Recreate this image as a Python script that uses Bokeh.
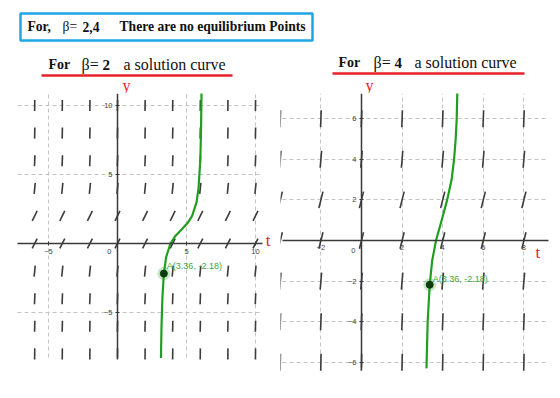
import numpy as np
from bokeh.plotting import figure
from bokeh.layouts import column, row
from bokeh.models import Range1d, Label, FixedTicker, ColumnDataSource, Grid
from bokeh.core.properties import value
from bokeh.embed import file_html
from bokeh.resources import INLINE

# ---------------- data ----------------
# left panel: beta = 2
left_field_t = [-6, -4, -2, 0, 2, 4, 6, 8, 10]
left_field_y = [-8, -6, -4, -2, 0, 2, 4, 6, 8, 10]
left_slopes = [82, 50, 26, 10, 2, 2, 10, 26, 50, 82]          # dy/dt per row
left_curve_t = [3.15, 3.19, 3.25, 3.36, 3.52, 3.84, 4.16, 4.63, 5.09, 5.41, 5.73, 5.87, 6.00, 6.05, 6.09]
left_curve_y = [-8.3, -6.0, -4.0, -2.18, -1.0, 0.0, 0.5, 1.0, 1.5, 2.0, 3.0, 4.0, 6.0, 8.0, 10.9]
left_xticks = [-5, 5, 10]
left_yticks = [-5, 5, 10]

# right panel: beta = 4
right_field_t = [-4, -2, 0, 2, 4, 6, 8]
right_field_y = [-6, -4, -2, 0, 2, 4, 6]
right_slopes = [52, 28, 12, 4, 4, 12, 28]
right_curve_t = [3.20, 3.26, 3.36, 3.48, 3.67, 3.95, 4.22, 4.44, 4.56, 4.64, 4.69, 4.72]
right_curve_y = [-6.3, -4.0, -2.18, -1.0, 0.0, 1.0, 2.0, 3.0, 4.0, 5.0, 6.0, 7.3]
right_xticks = [-2, 2, 4, 6, 8]
right_yticks = [-6, -4, -2, 2, 4, 6]

point_A = (3.36, -2.18)
point_label = "A(3.36, -2.18)"

header_text = ["For,", "\u03b2=", "2,4", "There are no equilibrium Points"]
left_title = ["For", "\u03b2=", "2", "a solution curve"]
right_title = ["For", "\u03b2=", "4", "a solution curve"]

SERIF = value("Liberation Serif")
SANS = "Liberation Sans"
GREEN = "#1f9e1f"
RED = "#e8202a"
HEAD_H = 93

# ---------------- header ----------------
hd = figure(width=560, height=HEAD_H, x_range=Range1d(0, 560), y_range=Range1d(HEAD_H, 0),
            output_backend="svg", toolbar_location=None, min_border=0)
hd.axis.visible = False
hd.grid.visible = False
hd.outline_line_color = None
hd.quad(left=[20], right=[312], top=[13], bottom=[40], fill_color=None,
        line_color="#1ea5e6", line_width=2.5)
hd.text(x=[27, 82, 119], y=[26] * 3, text=[header_text[0], header_text[2], header_text[3]],
        text_font=SERIF, text_font_size="13.6px", text_font_style="bold",
        text_color="#111111", text_baseline="alphabetic")
hd.text(x=[62], y=[26], text=[header_text[1]], text_font=SERIF, text_font_size="13.6px",
        text_color="#111111", text_baseline="alphabetic")
# subtitles
for xs, yb, words, ul in [([48, 81, 102, 123], 64, left_title, (41, 232, 75)),
                          ([338, 373, 394, 414], 62, right_title, (332, 524, 73))]:
    hd.text(x=[xs[0]], y=[yb], text=[words[0]], text_font=SERIF,
            text_font_size="14px", text_font_style="bold", text_color="#111111",
            text_baseline="alphabetic")
    hd.text(x=[xs[2]], y=[yb], text=[words[2]], text_font=SERIF,
            text_font_size="15px", text_font_style="bold", text_color="#111111",
            text_baseline="alphabetic")
    hd.text(x=[xs[1], xs[3]], y=[yb, yb], text=[words[1], words[3]], text_font=SERIF,
            text_font_size="16px", text_color="#111111", text_baseline="alphabetic")
    hd.segment(x0=[ul[0]], x1=[ul[1]], y0=[ul[2]], y1=[ul[2]], line_color=RED, line_width=2.5)
# axis names "y" above each graphics view
hd.text(x=[122, 365], y=[85, 85], text=["y", "y"], text_font=SERIF, text_font_size="16px",
        text_color=RED, text_baseline="alphabetic")


def slope_segments(ts, ys, slopes, L):
    x0, y0, x1, y1 = [], [], [], []
    for yv, m in zip(ys, slopes):
        dx = (L / 2) / np.sqrt(1 + m * m)
        dy = m * dx
        for tv in ts:
            x0.append(tv - dx); x1.append(tv + dx)
            y0.append(yv - dy); y1.append(yv + dy)
    return dict(x0=x0, y0=y0, x1=x1, y1=y1)


HAS_CROSS = "cross_bounds" in Grid.properties()


def panel(xr, yr, vx, vy, ft, fy, slopes, L, ct, cy, xt, yt, tlab, zero, lab_off):
    p = figure(width=280, height=398 - HEAD_H, x_range=Range1d(*xr), y_range=Range1d(*yr),
               output_backend="svg", toolbar_location=None, min_border=0)
    p.outline_line_color = None
    p.xgrid.ticker = FixedTicker(ticks=xt)
    p.ygrid.ticker = FixedTicker(ticks=yt)
    for g in (p.xgrid, p.ygrid):
        g.grid_line_color = "#c4c4c4"
        g.grid_line_dash = "4 3"
        g.grid_line_width = 1
    if HAS_CROSS:
        p.xgrid.cross_bounds = vy
        p.ygrid.cross_bounds = vx
    else:
        p.xgrid.visible = False
        p.ygrid.visible = False
        p.segment(x0=xt, x1=xt, y0=[vy[0]] * len(xt), y1=[vy[1]] * len(xt),
                  line_color="#c4c4c4", line_dash="4 3", line_width=1)
        p.segment(x0=[vx[0]] * len(yt), x1=[vx[1]] * len(yt), y0=yt, y1=yt,
                  line_color="#c4c4c4", line_dash="4 3", line_width=1)
    p.xaxis.fixed_location = 0
    p.yaxis.fixed_location = 0
    p.xaxis.bounds = vx
    p.yaxis.bounds = vy
    p.xaxis.ticker = FixedTicker(ticks=xt)
    p.yaxis.ticker = FixedTicker(ticks=yt)
    for ax in (p.xaxis, p.yaxis):
        ax.axis_line_color = "#3a3a3a"
        ax.axis_line_width = 1.5
        ax.major_tick_line_color = "#3a3a3a"
        ax.major_tick_in = 2
        ax.major_tick_out = 2
        ax.minor_tick_line_color = None
        ax.major_label_text_font = SANS
        ax.major_label_text_font_size = "7.5px"
        ax.major_label_text_color = "#444444"
        ax.major_label_standoff = 3
    p.xaxis.major_label_overrides = {v: str(v).replace("-", "\u2212") for v in xt}
    p.yaxis.major_label_overrides = {v: str(v).replace("-", "\u2212") for v in yt}

    src = ColumnDataSource(slope_segments(ft, fy, slopes, L))
    p.segment(x0="x0", y0="y0", x1="x1", y1="y1", source=src,
              line_color="#3c3c3c", line_width=1.6)
    p.line(ct, cy, line_color=GREEN, line_width=2.2)
    p.scatter([point_A[0]], [point_A[1]], size=13, fill_color=GREEN, fill_alpha=0.25,
              line_color=None)
    p.scatter([point_A[0]], [point_A[1]], size=7, fill_color="#0d3d0d",
              line_color="#0d3d0d")
    p.add_layout(Label(x=point_A[0], y=point_A[1], text=point_label, x_offset=3,
                       y_offset=lab_off, text_font=SANS, text_font_size="9px",
                       text_color="#3aa83a", text_baseline="bottom"))
    p.add_layout(Label(x=tlab[0], y=tlab[1], text="t", text_font="Liberation Serif",
                       text_font_size="17px", text_color=RED, text_baseline="middle"))
    p.add_layout(Label(x=zero[0], y=zero[1], text="0", text_font=SANS,
                       text_font_size="7.5px", text_color="#444444",
                       text_align="center", text_baseline="middle"))
    return p


# full canvas ranges (page pixels -> data), visible graphics view in vx / vy
left = panel((-8.478, 11.812), (-11.232, 10.87), (-7.25, 10.51), (-8.26, 10.87),
             left_field_t, left_field_y, left_slopes, 0.8,
             left_curve_t, left_curve_y, left_xticks, left_yticks,
             (10.75, 0.2), (-0.6, -0.55), 3)
right = panel((-3.990, 9.803), (-7.783, 7.241), (-3.89, 9.21), (-6.26, 7.24),
              right_field_t, right_field_y, right_slopes, 0.84,
              right_curve_t, right_curve_y, right_xticks, right_yticks,
              (8.57, -0.6), (-0.4, -0.5), 1)

layout = column(hd, row(left, right, spacing=0), spacing=0)
open("out.html", "w").write(file_html(layout, INLINE))
